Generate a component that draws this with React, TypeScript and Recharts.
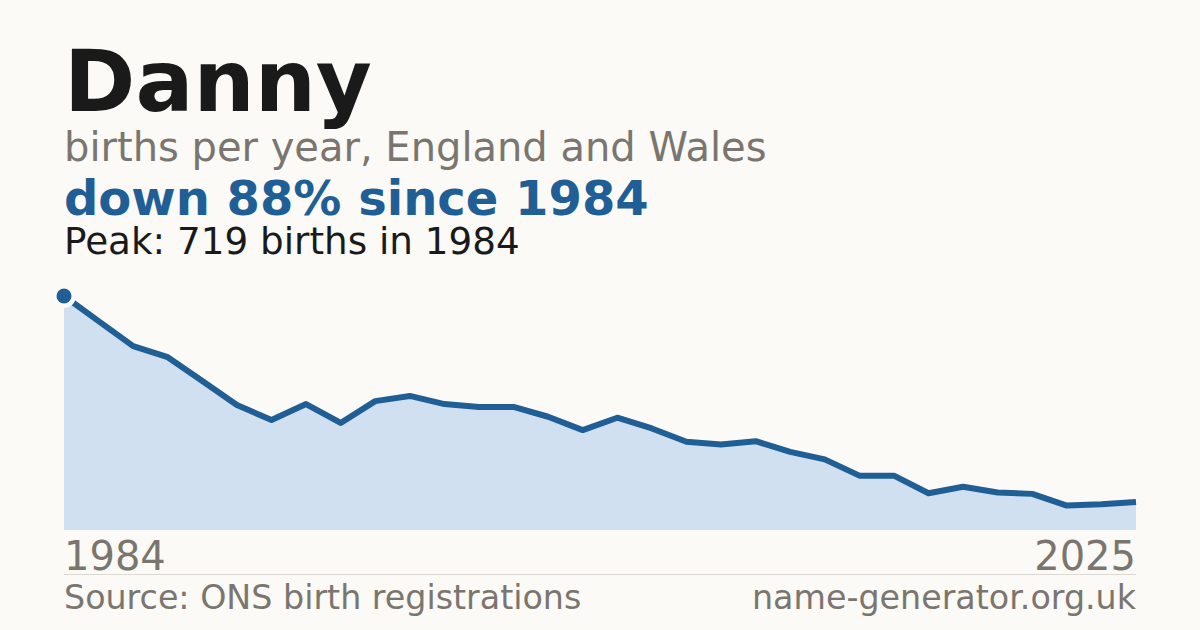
import React from 'react';
import { AreaChart, Area, XAxis, YAxis } from 'recharts';

// ONS publishes 1984 and 1994, then every year from 1996
const years = [
  1984, 1994, 1996, 1997, 1998, 1999, 2000, 2001, 2002, 2003, 2004,
  2005, 2006, 2007, 2008, 2009, 2010, 2011, 2012, 2013, 2014, 2015,
  2016, 2017, 2018, 2019, 2020, 2021, 2022, 2023, 2024, 2025,
];

const births = [
  719, 642, 565, 531, 458, 384, 338, 387, 329, 396, 412,
  387, 378, 378, 348, 307, 345, 312, 271, 263, 273, 240,
  217, 167, 167, 113, 133, 115, 111, 75, 79, 86,
];

const BG = '#fbfaf6';
const BLUE = '#1f5f96';
const FILL = '#d0e0f0';
const GREY = '#7a766f';
const FONT = '"DejaVu Sans", sans-serif';

const data = years.map((year, i) => ({ year, births: births[i] }));
const peakIndex = births.indexOf(Math.max(...births));

const PeakDot = (props: any) => {
  const { cx, cy, index } = props;
  if (index !== peakIndex) return <g key={`d${index}`} />;
  return (
    <g key={`d${index}`}>
      <circle cx={cx} cy={cy} r={12} fill={BG} />
      <circle cx={cx} cy={cy} r={7.5} fill={BLUE} />
    </g>
  );
};

const EndTick = (props: any) => {
  const { x, y, payload, index } = props;
  const last = years.length - 1;
  if (index !== 0 && index !== last) return <g />;
  return (
    <text
      x={x}
      y={y + 40}
      textAnchor={index === 0 ? 'start' : 'end'}
      fontSize={40}
      fontFamily={FONT}
      fill={GREY}
    >
      {payload.value}
    </text>
  );
};

const text = (top: number, size: number, color: string, weight = 400): React.CSSProperties => ({
  position: 'absolute',
  left: 64,
  top,
  fontSize: size,
  lineHeight: 1,
  color,
  fontWeight: weight,
  whiteSpace: 'nowrap',
});

export default function App() {
  return (
    <div
      style={{
        position: 'fixed',
        left: 0,
        top: 0,
        width: 1200,
        height: 630,
        background: BG,
        fontFamily: FONT,
        overflow: 'hidden',
      }}
    >
      <div style={text(38, 86, '#1a1a1a', 700)}>Danny</div>
      <div style={text(127, 40, GREY)}>births per year, England and Wales</div>
      <div style={text(174, 48, BLUE, 700)}>down 88% since 1984</div>
      <div style={text(223, 37.3, '#1a1a1a')}>Peak: 719 births in 1984</div>

      <div style={{ position: 'absolute', left: 0, top: 0 }}>
        <AreaChart
          width={1200}
          height={630}
          data={data}
          margin={{ top: 296, right: 64, bottom: 60, left: 64 }}
        >
          <XAxis
            dataKey="year"
            interval={0}
            height={40}
            axisLine={false}
            tickLine={false}
            tickSize={0}
            tickMargin={0}
            tick={<EndTick />}
          />
          <YAxis hide domain={[0, 'dataMax']} />
          <Area
            type="linear"
            dataKey="births"
            stroke={BLUE}
            strokeWidth={6}
            strokeLinejoin="round"
            fill={FILL}
            fillOpacity={1}
            dot={PeakDot}
            activeDot={false}
            isAnimationActive={false}
          />
        </AreaChart>
      </div>

      <div
        style={{
          position: 'absolute',
          left: 64,
          top: 574,
          width: 1072,
          height: 1,
          background: '#dcd9d2',
        }}
      />
      <div style={text(581, 33.3, GREY)}>Source: ONS birth registrations</div>
      <div style={{ ...text(581, 33.3, GREY), left: 'auto', right: 64 }}>name-generator.org.uk</div>
    </div>
  );
}
